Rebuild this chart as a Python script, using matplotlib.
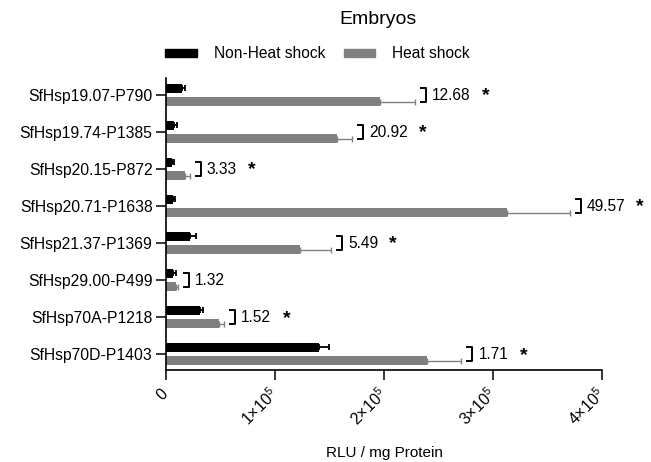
import matplotlib
matplotlib.use('Agg')
import matplotlib.pyplot as plt
import numpy as np
from matplotlib.patches import Patch
from matplotlib.transforms import IdentityTransform

plt.rcParams['font.family'] = ['Liberation Sans', 'DejaVu Sans']
plt.rcParams['mathtext.fontset'] = 'custom'
plt.rcParams['mathtext.rm'] = 'Liberation Sans'

# Dados
genes = ['SfHsp19.07-P790', 'SfHsp19.74-P1385', 'SfHsp20.15-P872', 'SfHsp20.71-P1638',
         'SfHsp21.37-P1369', 'SfHsp29.00-P499', 'SfHsp70A-P1218', 'SfHsp70D-P1403']
nhs = [15200, 7600, 5400, 6300, 22300, 7000, 31700, 140400]
nhs_err = [2500, 2400, 2600, 2100, 5700, 2700, 2800, 9400]
hs = [196300, 157200, 18000, 312800, 123300, 9100, 48500, 239300]
hs_err = [32000, 13700, 4000, 57200, 28100, 2200, 5200, 31700]
fold = ['12.68', '20.92', '3.33', '49.57', '5.49', '1.32', '1.52', '1.71']
signif = [True, True, True, True, True, False, True, True]
xticks = [0, 100000, 200000, 300000, 400000]
xtick_labels = ['0', r'1$\times$10$^{5}$', r'2$\times$10$^{5}$', r'3$\times$10$^{5}$', r'4$\times$10$^{5}$']

gray = '#808080'
pos = np.arange(len(genes))
h = 0.24
off = 0.18

fig = plt.figure(figsize=(6.51, 4.62), dpi=100)
ax = fig.add_axes([0.2545, 0.1991, 0.6707, 0.6321])

ax.barh(pos - off, nhs, height=h, color='black')
ax.barh(pos + off, hs, height=h, color=gray)
ax.errorbar(nhs, pos - off, xerr=[np.zeros(len(nhs)), nhs_err], fmt='none',
            ecolor='black', elinewidth=1.3, capsize=2, capthick=1.3)
ax.errorbar(hs, pos + off, xerr=[np.zeros(len(hs)), hs_err], fmt='none',
            ecolor=gray, elinewidth=1.0, capsize=2, capthick=1.0)

ax.set_xlim(0, 400000)
ax.set_ylim(7.43, -0.46)

# Colchetes, razão e asterisco (em pixels a partir do fim da barra de erro)
for i in range(len(genes)):
    x = max(hs[i] + hs_err[i], nhs[i] + nhs_err[i])
    p = ax.transData.transform([(x, i - off), (x, i + off)])
    bx = p[0, 0] + 6
    ax.plot([bx, bx + 5, bx + 5, bx], [p[0, 1], p[0, 1], p[1, 1], p[1, 1]],
            color='black', lw=1.4, transform=IdentityTransform(), clip_on=False)
    ax.annotate(fold[i], xy=(x, i), xytext=(17, 0), textcoords='offset pixels',
                ha='left', va='center', fontsize=11.2, annotation_clip=False)
    if signif[i]:
        ax.annotate('*', xy=(x, i), xytext=(62 + 8.5 * (len(fold[i]) - 4), -1),
                    textcoords='offset pixels', ha='center', va='center',
                    fontsize=14, fontweight='bold', annotation_clip=False)

ax.set_yticks(pos)
ax.set_yticklabels(genes, fontsize=11.3)
ax.set_xticks(xticks)
ax.set_xticklabels(xtick_labels, fontsize=11.5, rotation=45, ha='right',
                   va='center', rotation_mode='anchor')
ax.tick_params(axis='y', length=7.5, width=1.1, pad=2)
ax.tick_params(axis='x', length=7.5, width=1.1, pad=8)
for s in ['top', 'right']:
    ax.spines[s].set_visible(False)
for s in ['left', 'bottom']:
    ax.spines[s].set_linewidth(1.2)
ax.set_xlabel('RLU / mg Protein', fontsize=11, labelpad=12)

fig.text(378 / 651, 1 - 20 / 462, 'Embryos', ha='center', va='center', fontsize=14)
handles = [Patch(color='black', label='Non-Heat shock'), Patch(color=gray, label='Heat shock')]
fig.legend(handles=handles, loc='center', bbox_to_anchor=(317.5 / 651, 1 - 54 / 462),
           ncol=2, frameon=False, fontsize=11.2, handlelength=2.0, handleheight=0.4,
           handletextpad=1.1, columnspacing=1.2)

fig.savefig('out.png', dpi=100)
